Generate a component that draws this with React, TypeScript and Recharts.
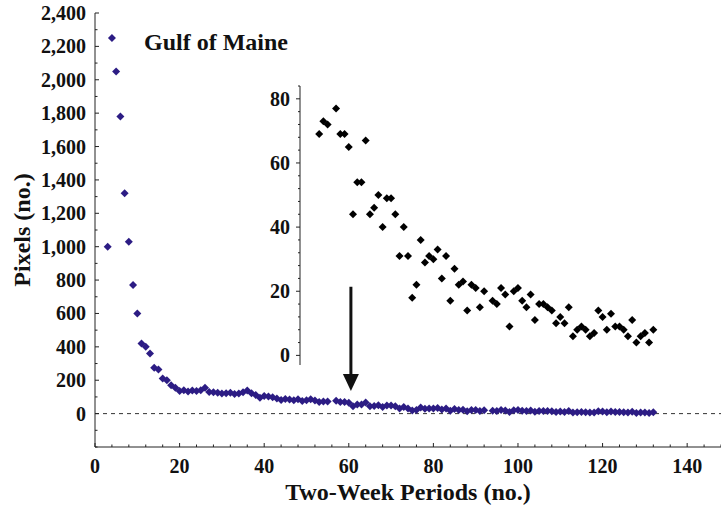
import React from 'react'
import { ScatterChart, Scatter, XAxis, YAxis, ReferenceLine } from 'recharts'

// two-week period index and pixel count (Gulf of Maine)
const periods = [
  3, 4, 5, 6, 7, 8, 9, 10, 11, 12, 13, 14, 15, 16, 17, 18, 19, 20, 21, 22, 23, 24, 25, 26, 27, 28,
  29, 30, 31, 32, 33, 34, 35, 36, 37, 38, 39, 40, 41, 42, 43, 44, 45, 46, 47, 48, 49, 50, 51, 52,
  53, 54, 55, 57, 58, 59, 60, 61, 62, 63, 64, 65, 66, 67, 68, 69, 70, 71, 72, 73, 74, 75, 76, 77,
  78, 79, 80, 81, 82, 83, 84, 85, 86, 87, 88, 89, 90, 91, 92, 94, 95, 96, 97, 98, 99, 100, 101,
  102, 103, 104, 105, 106, 107, 108, 109, 110, 111, 112, 113, 114, 115, 116, 117, 118, 119, 120,
  121, 122, 123, 124, 125, 126, 127, 128, 129, 130, 131, 132,
]
const pixels = [
  1000, 2250, 2050, 1780, 1320, 1030, 770, 600, 420, 400, 360, 275, 265, 210, 200, 170, 155, 135,
  140, 132, 138, 135, 140, 155, 130, 128, 125, 120, 122, 125, 118, 120, 128, 138, 122, 112, 95, 105,
  102, 98, 90, 82, 88, 84, 80, 86, 76, 80, 86, 78,
  69, 73, 72, 77, 69, 69, 65, 44, 54, 54, 67, 44, 46, 50, 40, 49, 49, 44, 31, 40, 31, 18, 22, 36,
  29, 31, 30, 33, 24, 31, 17, 27, 22, 23, 14, 22, 21, 15, 20, 17, 16, 21, 19, 9, 20, 21, 17, 15,
  19, 11, 16, 16, 15, 14, 10, 12, 10, 15, 6, 8, 9, 8, 6, 7, 14, 12, 8, 13, 9, 9, 8, 6, 11, 4, 6,
  7, 4, 8,
]
const insetStart = 53

const xTicks = [0, 20, 40, 60, 80, 100, 120, 140]
const yTicks = [0, 200, 400, 600, 800, 1000, 1200, 1400, 1600, 1800, 2000, 2200, 2400]
const insetTicks = [0, 20, 40, 60, 80]
const arrowAt = 60.5

const data = periods.map((p, i) => ({ period: p, pixels: pixels[i] }))
const insetData = data.filter((d) => d.period >= insetStart)

const FONT = '"Liberation Serif", "Times New Roman", serif'

const range = (a: number, b: number, s: number) => {
  const out: number[] = []
  for (let v = a; v <= b + 1e-9; v += s) out.push(v)
  return out
}
const xAll = range(0, 148, 4)
const yAll = range(-200, 2400, 100)
const insetAll = range(0, 84, 4)

const Diamond = (color: string, r: number) => (props: any) => {
  const { cx, cy } = props
  if (cx == null || cy == null) return null
  return (
    <polygon
      points={`${cx},${cy - r} ${cx + r},${cy} ${cx},${cy + r} ${cx - r},${cy}`}
      fill={color}
    />
  )
}

const BottomTick = (props: any) => {
  const { x, y, payload } = props
  const major = xTicks.includes(payload.value)
  return (
    <g>
      <line x1={x} y1={y} x2={x} y2={y - (major ? 4 : 2.5)} stroke="#222" />
      {major && (
        <text x={x} y={y + 26} textAnchor="middle" fontFamily={FONT} fontWeight="bold" fontSize={20} fill="#111">
          {payload.value}
        </text>
      )}
    </g>
  )
}

const TopTick = (props: any) => {
  const { x, y, payload } = props
  const major = xTicks.includes(payload.value)
  return <line x1={x} y1={y} x2={x} y2={y + (major ? 4 : 2.5)} stroke="#222" />
}

const LeftTick = (props: any) => {
  const { x, y, payload } = props
  const major = yTicks.includes(payload.value)
  return (
    <g>
      <line x1={x} y1={y} x2={x + (major ? 4 : 2.5)} y2={y} stroke="#222" />
      {major && (
        <text x={x - 9} y={y + 7} textAnchor="end" fontFamily={FONT} fontWeight="bold" fontSize={20} fill="#111">
          {payload.value.toLocaleString('en-US')}
        </text>
      )}
    </g>
  )
}

const InsetTick = (props: any) => {
  const { x, y, payload } = props
  const major = insetTicks.includes(payload.value)
  return (
    <g>
      <line x1={x} y1={y} x2={x - (major ? 4 : 2)} y2={y} stroke="#222" />
      {major && (
        <text x={x - 10} y={y + 7} textAnchor="end" fontFamily={FONT} fontWeight="bold" fontSize={20} fill="#111">
          {payload.value}
        </text>
      )}
    </g>
  )
}

const Arrow = (props: any) => {
  const { x1, y1, x2, y2 } = props
  return (
    <g>
      <line x1={x1} y1={y1} x2={x2} y2={y2 - 14} stroke="#111" strokeWidth={3} />
      <polygon points={`${x2 - 8},${y2 - 17} ${x2 + 8},${y2 - 17} ${x2},${y2}`} fill="#111" />
    </g>
  )
}

export default function App() {
  return (
    <div style={{ position: 'absolute', left: 0, top: 0, width: 721, height: 508, background: '#fff' }}>
      <ScatterChart width={721} height={508} margin={{ top: 13, right: 0, bottom: 0, left: 0 }}>
        <XAxis
          xAxisId="b"
          type="number"
          dataKey="period"
          domain={[0, 148]}
          ticks={xAll}
          interval={0}
          allowDataOverflow
          height={61}
          tickSize={0}
          tickMargin={0}
          tickLine={false}
          tick={(p: any) => <BottomTick {...p} />}
          axisLine={{ stroke: '#222' }}
          label={{
            content: (p: any) => {
              const vb = p.viewBox || { x: 95, y: 447, width: 626, height: 61 }
              return (
                <text x={vb.x + vb.width / 2} y={vb.y + 53} textAnchor="middle" fontFamily={FONT} fontWeight="bold" fontSize={24} fill="#111">
                  Two-Week Periods (no.)
                </text>
              )
            },
          }}
        />
        <XAxis
          xAxisId="t"
          orientation="top"
          type="number"
          dataKey="period"
          domain={[0, 148]}
          ticks={xAll}
          interval={0}
          allowDataOverflow
          height={0}
          tickSize={0}
          tickMargin={0}
          tickLine={false}
          tick={(p: any) => <TopTick {...p} />}
          axisLine={{ stroke: '#222' }}
        />
        <YAxis
          type="number"
          dataKey="pixels"
          domain={[-200, 2400]}
          ticks={yAll}
          interval={0}
          allowDataOverflow
          width={95}
          tickSize={0}
          tickMargin={0}
          tickLine={false}
          tick={(p: any) => <LeftTick {...p} />}
          axisLine={{ stroke: '#222' }}
          label={{
            content: (p: any) => {
              const vb = p.viewBox || { x: 0, y: 13, width: 95, height: 434 }
              const cx = vb.x + 22
              const cy = vb.y + vb.height / 2
              return (
                <text x={cx} y={cy} transform={`rotate(-90 ${cx} ${cy})`} textAnchor="middle" dominantBaseline="central" fontFamily={FONT} fontWeight="bold" fontSize={24} fill="#111">
                  Pixels (no.)
                </text>
              )
            },
          }}
        />
        <ReferenceLine xAxisId="b" y={0} stroke="#333" strokeDasharray="4 4" />
        <ReferenceLine
          xAxisId="b"
          segment={[
            { x: arrowAt, y: 760 },
            { x: arrowAt, y: 135 },
          ]}
          shape={(p: any) => <Arrow {...p} />}
        />
        <Scatter xAxisId="b" data={data} fill="#2c1c84" shape={Diamond('#2c1c84', 4)} isAnimationActive={false} />
      </ScatterChart>

      <div style={{ position: 'absolute', left: 144, top: 30, fontFamily: FONT, fontWeight: 'bold', fontSize: 24, lineHeight: '24px', color: '#111', whiteSpace: 'nowrap' }}>
        Gulf of Maine
      </div>

      <div style={{ position: 'absolute', left: 240, top: 70 }}>
        <ScatterChart width={481} height={300} margin={{ top: 16, right: 0, bottom: 5, left: 0 }}>
          <XAxis type="number" dataKey="period" domain={[48.47, 148]} hide allowDataOverflow />
          <YAxis
            type="number"
            dataKey="pixels"
            domain={[-3, 84]}
            ticks={insetAll}
            interval={0}
            allowDataOverflow
            width={60}
            tickSize={0}
            tickMargin={0}
            tickLine={false}
            tick={(p: any) => <InsetTick {...p} />}
            axisLine={{ stroke: '#222' }}
          />
          <Scatter data={insetData} fill="#000" shape={Diamond('#000', 4)} isAnimationActive={false} />
        </ScatterChart>
      </div>
    </div>
  )
}
